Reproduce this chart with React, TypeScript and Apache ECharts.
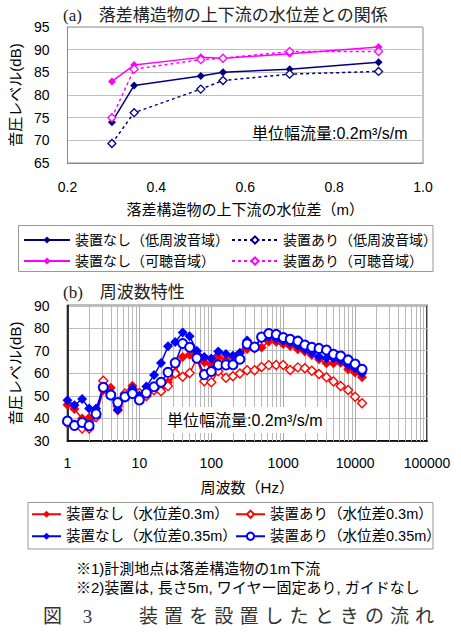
import React, { useEffect, useRef } from "react";
import * as echarts from "echarts";

// ---------- Chart (a) data ----------
const waterDiff = [0.3, 0.35, 0.5, 0.55, 0.7, 0.9];
const noDeviceLow = [74.0, 82.1, 84.2, 85.0, 85.7, 87.2];
const withDeviceLow = [69.3, 76.1, 81.3, 83.2, 84.6, 85.2];
const noDeviceAudible = [83.0, 86.6, 88.3, 88.1, 89.1, 90.6];
const withDeviceAudible = [75.0, 85.7, 87.8, 88.1, 89.6, 89.6];

const legendA = [
  "装置なし（低周波音域）",
  "装置あり（低周波音域）",
  "装置なし（可聴音域）",
  "装置あり（可聴音域）",
];

// ---------- Chart (b) data ----------
const freqs = [
  1, 1.25, 1.6, 2, 2.5, 3.15, 4, 5, 6.3, 8, 10, 12.5, 16, 20, 25, 31.5, 40, 50, 63, 80, 100, 125,
  160, 200, 250, 315, 400, 500, 630, 800, 1000, 1250, 1600, 2000, 2500, 3150, 4000, 5000, 6300,
  8000, 10000, 12500,
];
const noDevice03 = [
  46.0, 44.2, 40.0, 40.3, 41.0, 52.5, 53.6, 43.5, 50.5, 54.5, 51.0, 49.8, 52.8, 53.5, 56.0, 60.4,
  67.2, 68.2, 69.7, 64.9, 63.8, 67.2, 66.0, 67.5, 69.0, 70.7, 70.8, 71.4, 74.1, 74.0, 73.0, 72.1,
  70.6, 69.6, 68.1, 66.2, 64.4, 64.4, 64.7, 61.8, 60.3, 58.2,
];
const withDevice03 = [
  38.0, 37.0, 35.5, 35.5, 40.5, 56.7, 51.0, 45.4, 51.0, 52.8, 51.3, 49.9, 52.5, 52.0, 54.3, 59.9,
  58.4, 60.1, 66.5, 56.5, 56.0, 60.9, 58.0, 58.7, 59.9, 61.3, 61.3, 62.8, 63.6, 63.7, 63.7, 61.4,
  62.6, 62.2, 61.1, 59.7, 58.2, 56.3, 54.4, 52.6, 49.6, 46.7,
];
const noDevice035 = [
  48.0, 45.8, 48.6, 44.4, 44.4, 53.5, 50.0, 44.0, 49.2, 53.3, 50.2, 54.1, 59.2, 64.5, 72.0, 73.8,
  78.0, 76.4, 69.9, 67.2, 66.5, 69.6, 68.5, 67.8, 69.0, 74.5, 71.5, 75.5, 76.2, 75.3, 74.4, 73.5,
  72.1, 70.6, 69.1, 67.3, 66.6, 66.6, 65.6, 63.7, 62.2, 60.0,
];
const withDevice035 = [
  38.8, 36.9, 38.2, 36.8, 42.0, 53.8, 50.4, 47.0, 49.6, 51.0, 48.2, 51.3, 54.0, 56.0, 60.4, 64.6,
  73.2, 71.5, 66.7, 59.4, 60.8, 63.7, 63.7, 63.8, 66.2, 73.0, 71.6, 76.0, 77.6, 77.2, 75.8, 75.0,
  74.2, 72.5, 71.5, 71.0, 70.3, 68.4, 67.6, 65.9, 64.1, 61.8,
];
const legendB = [
  "装置なし（水位差0.3m）",
  "装置あり（水位差0.3m）",
  "装置なし（水位差0.35m）",
  "装置あり（水位差0.35m）",
];
const minorDecades = [1, 10, 100, 1000, 10000];
const minorMultipliers = [2, 3, 4, 5, 6, 7, 8, 9];

// ---------- texts ----------
const titleA = "(a)　落差構造物の上下流の水位差との関係";
const titleB = "(b)　周波数特性";
const unitText = "単位幅流量:0.2m³/s/m";
const note1 = "※1)計測地点は落差構造物の1m下流";
const note2 = "※2)装置は, 長さ5m, ワイヤー固定あり, ガイドなし";
const captionHead = ["図", "3"];
const captionBody = "装置を設置したときの流れ".split("");

const SANS = "'Liberation Sans', 'Noto Sans CJK JP', sans-serif";
const SERIF = "'Liberation Serif', 'Noto Sans CJK JP', serif";

const NAVY = "#000080";
const MAGENTA = "#ff00ff";
const RED = "#ff0000";
const BLUE = "#0000ff";

function pair(xs: number[], ys: number[]) {
  return xs.map((x, i) => [x, ys[i]]);
}

function buildOption() {
  const filled = (color: string, size: number, dashed = false) => ({
    symbol: "diamond",
    symbolSize: size,
    lineStyle: { color, width: 1.5, type: dashed ? [3, 3] : "solid" },
    itemStyle: { color },
  });
  const hollow = (color: string, symbol: string, size: number, bw: number, dashed = false) => ({
    symbol,
    symbolSize: size,
    lineStyle: { color, width: 1.5, type: dashed ? [3, 3] : "solid" },
    itemStyle: { color: "#fff", borderColor: color, borderWidth: bw },
  });

  const minorLines: any[] = [];
  minorDecades.forEach((d) => minorMultipliers.forEach((m) => minorLines.push({ xAxis: d * m })));

  const mkLegend = (name: string, left: number, top: number, w: number, fs: number) => ({
    data: [name],
    left,
    top,
    padding: 0,
    itemWidth: w,
    itemHeight: 9,
    textStyle: { fontSize: fs, fontFamily: SANS, color: "#000" },
    selectedMode: false,
  });

  const graphic: any[] = [
    {
      type: "text",
      x: 63,
      y: 15,
      style: { text: titleA, font: `17px ${SERIF}`, fill: "#222", verticalAlign: "middle" },
    },
    {
      type: "text",
      x: 63,
      y: 292,
      style: { text: titleB, font: `17px ${SERIF}`, fill: "#222", verticalAlign: "middle" },
    },
    {
      type: "text",
      x: 252,
      y: 133,
      z: 10,
      style: { text: unitText, font: `16px ${SANS}`, fill: "#000", verticalAlign: "middle" },
    },
    {
      type: "text",
      x: 163,
      y: 420,
      z: 10,
      style: {
        text: unitText,
        font: `16px ${SANS}`,
        fill: "#000",
        verticalAlign: "middle",
        backgroundColor: "#fff",
        padding: [5, 4],
      },
    },
    {
      type: "rect",
      shape: { x: 18.5, y: 225.5, width: 414.5, height: 46 },
      style: { fill: "none", stroke: "#999", lineWidth: 1 },
    },
    {
      type: "rect",
      shape: { x: 28, y: 502.5, width: 405, height: 46.5 },
      style: { fill: "none", stroke: "#999", lineWidth: 1 },
    },
    {
      type: "text",
      x: 76,
      y: 568,
      style: { text: note1, font: `15px ${SANS}`, fill: "#000", verticalAlign: "middle" },
    },
    {
      type: "text",
      x: 76,
      y: 587,
      style: { text: note2, font: `15px ${SANS}`, fill: "#000", verticalAlign: "middle" },
    },
  ];
  const capCenters = [52.5, 87.5];
  captionHead.forEach((c, i) =>
    graphic.push({
      type: "text",
      x: capCenters[i],
      y: 616,
      style: { text: c, font: `19px ${SERIF}`, fill: "#333", align: "center", verticalAlign: "middle" },
    })
  );
  captionBody.forEach((c, i) =>
    graphic.push({
      type: "text",
      x: 148.5 + i * 25.1,
      y: 616,
      style: { text: c, font: `19px ${SERIF}`, fill: "#333", align: "center", verticalAlign: "middle" },
    })
  );

  return {
    animation: false,
    backgroundColor: "#fff",
    textStyle: { fontFamily: SANS },
    grid: [
      { left: 64, top: 27, width: 359, height: 136, show: true, borderColor: "#888", borderWidth: 1 },
      { left: 64, top: 305.5, width: 363, height: 135.5, show: true, borderColor: "#000", borderWidth: 1.5 },
    ],
    xAxis: [
      {
        gridIndex: 0,
        type: "value",
        min: 0.2,
        max: 1.0,
        interval: 0.2,
        axisLine: { show: true, lineStyle: { color: "#888" } },
        axisTick: { show: false },
        splitLine: { show: false },
        axisLabel: {
          margin: 17,
          fontSize: 14,
          color: "#000",
          fontFamily: SANS,
          formatter: (v: number) => v.toFixed(1),
        },
        name: "落差構造物の上下流の水位差（m）",
        nameLocation: "middle",
        nameGap: 39,
        nameTextStyle: { fontSize: 15, color: "#000", fontFamily: SANS },
      },
      {
        gridIndex: 1,
        type: "log",
        logBase: 10,
        min: 1,
        max: 100000,
        axisLine: { show: true, lineStyle: { color: "#000", width: 1.5 } },
        axisTick: { show: false },
        splitLine: { show: true, lineStyle: { color: "#aaa", width: 1 } },
        axisLabel: {
          margin: 15,
          fontSize: 14,
          color: "#000",
          fontFamily: SANS,
          formatter: (v: number) => String(Math.round(v)),
        },
        name: "周波数（Hz）",
        nameLocation: "middle",
        nameGap: 39,
        nameTextStyle: { fontSize: 15, color: "#000", fontFamily: SANS },
      },
    ],
    yAxis: [
      {
        gridIndex: 0,
        type: "value",
        min: 65,
        max: 95,
        interval: 5,
        axisLine: { show: true, lineStyle: { color: "#888" } },
        axisTick: { show: false },
        splitLine: { show: true, lineStyle: { color: "#c0c0c0" } },
        axisLabel: { margin: 18, fontSize: 14, color: "#000", fontFamily: SANS },
        name: "音圧レベル(dB)",
        nameLocation: "middle",
        nameGap: 42,
        nameTextStyle: { fontSize: 15, color: "#000", fontFamily: SANS },
      },
      {
        gridIndex: 1,
        type: "value",
        min: 30,
        max: 90,
        interval: 10,
        axisLine: { show: true, lineStyle: { color: "#000", width: 1.5 } },
        axisTick: { show: false },
        splitLine: { show: true, lineStyle: { color: "#bbb" } },
        axisLabel: { margin: 18, fontSize: 14, color: "#000", fontFamily: SANS },
        name: "音圧レベル(dB)",
        nameLocation: "middle",
        nameGap: 42,
        nameTextStyle: { fontSize: 15, color: "#000", fontFamily: SANS },
      },
    ],
    legend: [
      mkLegend(legendA[0], 23, 233, 46, 14),
      mkLegend(legendA[1], 231, 233, 46, 14),
      mkLegend(legendA[2], 23, 254, 46, 14),
      mkLegend(legendA[3], 231, 254, 46, 14),
      mkLegend(legendB[0], 31, 507, 29, 14.5),
      mkLegend(legendB[1], 235, 507, 29, 14.5),
      mkLegend(legendB[2], 31, 529, 29, 14.5),
      mkLegend(legendB[3], 235, 529, 29, 14.5),
    ],
    graphic,
    series: [
      {
        name: legendA[0],
        type: "line",
        xAxisIndex: 0,
        yAxisIndex: 0,
        data: pair(waterDiff, noDeviceLow),
        ...filled(NAVY, 8),
      },
      {
        name: legendA[1],
        type: "line",
        xAxisIndex: 0,
        yAxisIndex: 0,
        data: pair(waterDiff, withDeviceLow),
        ...hollow(NAVY, "diamond", 8, 1.3, true),
      },
      {
        name: legendA[2],
        type: "line",
        xAxisIndex: 0,
        yAxisIndex: 0,
        data: pair(waterDiff, noDeviceAudible),
        ...filled(MAGENTA, 8),
      },
      {
        name: legendA[3],
        type: "line",
        xAxisIndex: 0,
        yAxisIndex: 0,
        data: pair(waterDiff, withDeviceAudible),
        ...hollow(MAGENTA, "diamond", 8, 1.3, true),
      },
      {
        name: "minor",
        type: "line",
        xAxisIndex: 1,
        yAxisIndex: 1,
        data: [],
        markLine: {
          silent: true,
          z: 1,
          symbol: ["none", "none"],
          label: { show: false },
          lineStyle: { color: "#b8b8b8", type: "solid", width: 1 },
          emphasis: { disabled: true },
          data: minorLines,
        },
      },
      {
        name: legendB[0],
        type: "line",
        xAxisIndex: 1,
        yAxisIndex: 1,
        data: pair(freqs, noDevice03),
        ...filled(RED, 10),
      },
      {
        name: legendB[1],
        type: "line",
        xAxisIndex: 1,
        yAxisIndex: 1,
        data: pair(freqs, withDevice03),
        ...hollow(RED, "diamond", 9, 1.4),
      },
      {
        name: legendB[2],
        type: "line",
        xAxisIndex: 1,
        yAxisIndex: 1,
        data: pair(freqs, noDevice035),
        ...filled(BLUE, 10),
      },
      {
        name: legendB[3],
        type: "line",
        xAxisIndex: 1,
        yAxisIndex: 1,
        data: pair(freqs, withDevice035),
        ...hollow(BLUE, "circle", 9, 2),
      },
    ],
  };
}

export default function App() {
  const ref = useRef<HTMLDivElement>(null);
  useEffect(() => {
    if (!ref.current) return;
    const chart = echarts.init(ref.current, null, { renderer: "svg" });
    chart.setOption(buildOption() as any);
    return () => chart.dispose();
  }, []);
  return (
    <div
      ref={ref}
      style={{ position: "absolute", left: 0, top: 0, width: 461, height: 633, background: "#fff" }}
    />
  );
}
